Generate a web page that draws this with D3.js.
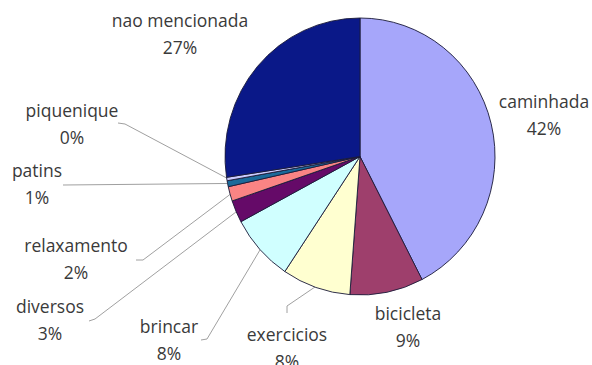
<!DOCTYPE html>
<html>
<head>
<meta charset="utf-8">
<script src="https://cdn.jsdelivr.net/npm/d3@7"></script>
<style>
  html, body { margin: 0; padding: 0; background: #fff; }
  svg { display: block; }
  text { font-family: "Open Sans", sans-serif; font-size: 17.5px; fill: #3a3a3a; }
</style>
</head>
<body>
<svg id="chart" width="592" height="365"></svg>
<script>
// Activity shares (percent), listed clockwise from 12 o'clock
const categories = ["caminhada", "bicicleta", "exercicios", "brincar", "diversos",
                    "relaxamento", "patins", "piquenique", "nao mencionada"];
const values = [42.4, 8.8, 8.2, 7.8, 2.6, 1.7, 0.7, 0.4, 27.4];
const colors = ["#a6a6fa", "#9e3f6c", "#ffffd0", "#d0ffff", "#650a68",
                "#fa8484", "#1a6a9a", "#ccccff", "#0a1888"];

// Label anchors (centre of first text line) and leader-line elbows
const labelLayout = {
  "caminhada":      { x: 544, y: 103 },
  "bicicleta":      { x: 408, y: 315 },
  "exercicios":     { x: 287, y: 336, leader: [[287, 313], [287, 306]] },
  "brincar":        { x: 169, y: 328, leader: [[201, 340], [207, 339]] },
  "diversos":       { x: 50,  y: 308, leader: [[89, 321], [95, 319]] },
  "relaxamento":    { x: 76,  y: 247, leader: [[136, 260], [143, 260]] },
  "patins":         { x: 37,  y: 172, leader: [[63, 185]] },
  "piquenique":     { x: 72,  y: 112, leader: [[118, 123], [125, 124]] },
  "nao mencionada": { x: 180, y: 22 }
};

const svg = d3.select("#chart");
const cx = 360, cy = 156.5, r = 135, yStretch = 138.5 / 135;

const data = categories.map((c, i) => ({ name: c, value: values[i], color: colors[i] }));

const pie = d3.pie().sort(null).value(d => d.value);
const arcs = pie(data);
const arc = d3.arc().innerRadius(0).outerRadius(r);

// point on the rim at a slice's middle angle, in page coordinates
function rimPoint(a, k) {
  const ang = (a.startAngle + a.endAngle) / 2;
  return [cx + r * k * Math.sin(ang), cy - r * k * yStretch * Math.cos(ang)];
}

// leader lines
const line = d3.line();
svg.append("g")
  .selectAll("path")
  .data(arcs.filter(a => labelLayout[a.data.name].leader))
  .join("path")
  .attr("d", a => line(labelLayout[a.data.name].leader.concat([rimPoint(a, 0.99)])))
  .attr("fill", "none")
  .attr("stroke", "#a0a0a0")
  .attr("stroke-width", 1);

// slices
svg.append("g")
  .attr("transform", `translate(${cx},${cy}) scale(1,${yStretch})`)
  .selectAll("path")
  .data(arcs)
  .join("path")
  .attr("d", arc)
  .attr("fill", a => a.data.color)
  .attr("stroke", "#1c1c3a")
  .attr("stroke-width", 0.9)
  .attr("stroke-linejoin", "round");

// labels: name and rounded percentage
const lbl = svg.append("g")
  .selectAll("text")
  .data(arcs)
  .join("text")
  .attr("text-anchor", "middle")
  .attr("x", a => labelLayout[a.data.name].x)
  .attr("y", a => labelLayout[a.data.name].y + 5);

lbl.append("tspan")
  .attr("x", a => labelLayout[a.data.name].x)
  .text(a => a.data.name);
lbl.append("tspan")
  .attr("x", a => labelLayout[a.data.name].x)
  .attr("dy", 27)
  .text(a => Math.round(a.data.value) + "%");
</script>
</body>
</html>
